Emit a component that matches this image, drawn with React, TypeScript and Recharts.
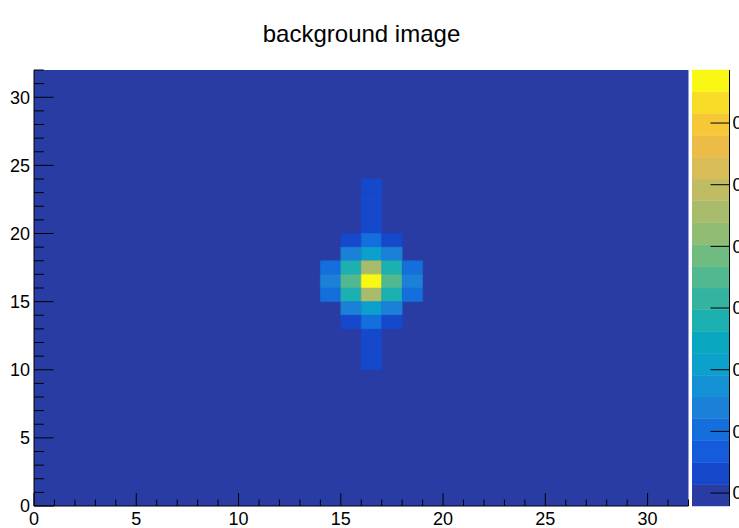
import React from "react";
import { ComposedChart, ReferenceArea, XAxis, YAxis } from "recharts";

// 32x32 bins, unit width, histogram "background image"
const binEdges = [0, 32];
const allTicks = Array.from({ length: 33 }, (_, i) => i);

// non-empty bins (x bin low edge, y bin low edge, content); every other bin is 0
const cellX = [16, 16, 16, 16, 16, 16, 16, 15, 16, 17, 15, 16, 17, 14, 15, 16, 17, 18, 14, 15, 16, 17, 18, 14, 15, 16, 17, 18, 15, 16, 17, 15, 16, 17];
const cellY = [10, 11, 12, 20, 21, 22, 23, 19, 19, 19, 18, 18, 18, 17, 17, 17, 17, 17, 16, 16, 16, 16, 16, 15, 15, 15, 15, 15, 14, 14, 14, 13, 13, 13];
const cellZ = [0.04, 0.04, 0.04, 0.04, 0.04, 0.04, 0.04, 0.04, 0.11, 0.04, 0.14, 0.22, 0.14, 0.09, 0.28, 0.47, 0.28, 0.09, 0.14, 0.36, 0.686, 0.36, 0.14, 0.09, 0.28, 0.47, 0.28, 0.09, 0.14, 0.22, 0.14, 0.04, 0.11, 0.04];

// palette (20 contours, bottom -> top), z range and labels
const zRange = [-0.021, 0.686];
const zTicks = [0, 0.1, 0.2, 0.3, 0.4, 0.5, 0.6];
const palette = [
  "#283ca4", "#1648cc", "#145cdc", "#146edc", "#1a80d8",
  "#1490d4", "#0ca0cc", "#0aa8c0", "#1cb0b0", "#34b4a0",
  "#52b890", "#70bc80", "#90bc74", "#a8bc6c", "#c0bc64",
  "#d8bc58", "#ecbc48", "#f6c838", "#f9dc28", "#f8f814",
];

const FONT = "'Liberation Sans', Arial, Helvetica, sans-serif";
const nBands = palette.length;
const zStep = (zRange[1] - zRange[0]) / nBands;

function colorFor(z: number) {
  const k = Math.floor((z - zRange[0]) / zStep);
  return palette[Math.max(0, Math.min(nBands - 1, k))];
}

const cells = cellX.map((x, i) => ({ x, y: cellY[i], z: cellZ[i] }));
const bands = palette.map((col, k) => ({
  col,
  lo: zRange[0] + k * zStep,
  hi: zRange[0] + (k + 1) * zStep,
  mid: 0.5,
}));

function XTick(props: any) {
  const { x, y, payload } = props;
  const major = payload.value % 5 === 0;
  return (
    <g>
      <line x1={x} x2={x} y1={y} y2={y - (major ? 13 : 6.5)} stroke="#000" strokeWidth={1} />
      {major && (
        <text x={x} y={y + 19} textAnchor="middle" fontSize={18} fontFamily={FONT} fill="#000">
          {payload.value}
        </text>
      )}
    </g>
  );
}

function YTick(props: any) {
  const { x, y, payload } = props;
  const major = payload.value % 5 === 0;
  return (
    <g>
      <line x1={x} x2={x + (major ? 19.6 : 9.8)} y1={y} y2={y} stroke="#000" strokeWidth={1} />
      {major && (
        <text x={x - 4} y={y + 6.4} textAnchor="end" fontSize={18} fontFamily={FONT} fill="#000">
          {payload.value}
        </text>
      )}
    </g>
  );
}

function ZTick(props: any) {
  const { x, y, payload } = props;
  return (
    <g>
      <line x1={x} x2={x - 19} y1={y} y2={y} stroke="#000" strokeWidth={1} />
      <text x={x + 3} y={y + 6.4} textAnchor="start" fontSize={18} fontFamily={FONT} fill="#000">
        {payload.value}
      </text>
    </g>
  );
}

export default function App() {
  return (
    <div
      style={{
        position: "absolute",
        left: 0,
        top: 0,
        width: 739,
        height: 528,
        overflow: "hidden",
        background: "#fff",
        fontFamily: FONT,
      }}
    >
      <div
        style={{
          position: "absolute",
          left: 0,
          top: 22,
          width: 723,
          textAlign: "center",
          fontSize: 24,
          lineHeight: "24px",
          color: "#000",
        }}
      >
        background image
      </div>

      <div style={{ position: "absolute", left: 0, top: 0 }}>
        <ComposedChart width={739} height={528} margin={{ top: 70, right: 50.5, bottom: 0, left: 0 }}>
          <XAxis
            type="number"
            dataKey="x"
            domain={binEdges}
            allowDataOverflow
            ticks={allTicks}
            interval={0}
            tick={<XTick />}
            tickLine={false}
            tickSize={0}
            tickMargin={0}
            height={22}
            axisLine={{ stroke: "#000", strokeWidth: 1 }}
          />
          <YAxis
            type="number"
            dataKey="y"
            domain={binEdges}
            allowDataOverflow
            ticks={allTicks}
            interval={0}
            tick={<YTick />}
            tickLine={false}
            tickSize={0}
            tickMargin={0}
            width={34}
            axisLine={{ stroke: "#000", strokeWidth: 1 }}
          />
          <ReferenceArea
            x1={binEdges[0]}
            x2={binEdges[1]}
            y1={binEdges[0]}
            y2={binEdges[1]}
            fill={colorFor(0)}
            fillOpacity={1}
            stroke="none"
          />
          {cells.map((c, i) => (
            <ReferenceArea
              key={i}
              x1={c.x}
              x2={c.x + 1}
              y1={c.y}
              y2={c.y + 1}
              fill={colorFor(c.z)}
              fillOpacity={1}
              stroke={colorFor(c.z)}
              strokeWidth={0.5}
            />
          ))}
        </ComposedChart>
      </div>

      <div style={{ position: "absolute", left: 692, top: 0 }}>
        <ComposedChart
          width={100}
          height={528}
          data={bands}
          margin={{ top: 70, right: 0, bottom: 0, left: 0 }}
        >
          <XAxis
            type="number"
            dataKey="mid"
            domain={[0, 1]}
            allowDataOverflow
            height={22}
            tick={false}
            tickLine={false}
            axisLine={false}
          />
          <YAxis
            type="number"
            dataKey="hi"
            orientation="right"
            domain={zRange}
            allowDataOverflow
            ticks={zTicks}
            interval={0}
            tick={<ZTick />}
            tickLine={false}
            tickSize={0}
            tickMargin={0}
            width={62.5}
            axisLine={{ stroke: "#000", strokeWidth: 1 }}
          />
          {bands.map((b, k) => (
            <ReferenceArea
              key={k}
              x1={0}
              x2={1}
              y1={b.lo}
              y2={b.hi}
              fill={b.col}
              fillOpacity={1}
              stroke={b.col}
              strokeWidth={0.5}
            />
          ))}
        </ComposedChart>
      </div>
    </div>
  );
}
